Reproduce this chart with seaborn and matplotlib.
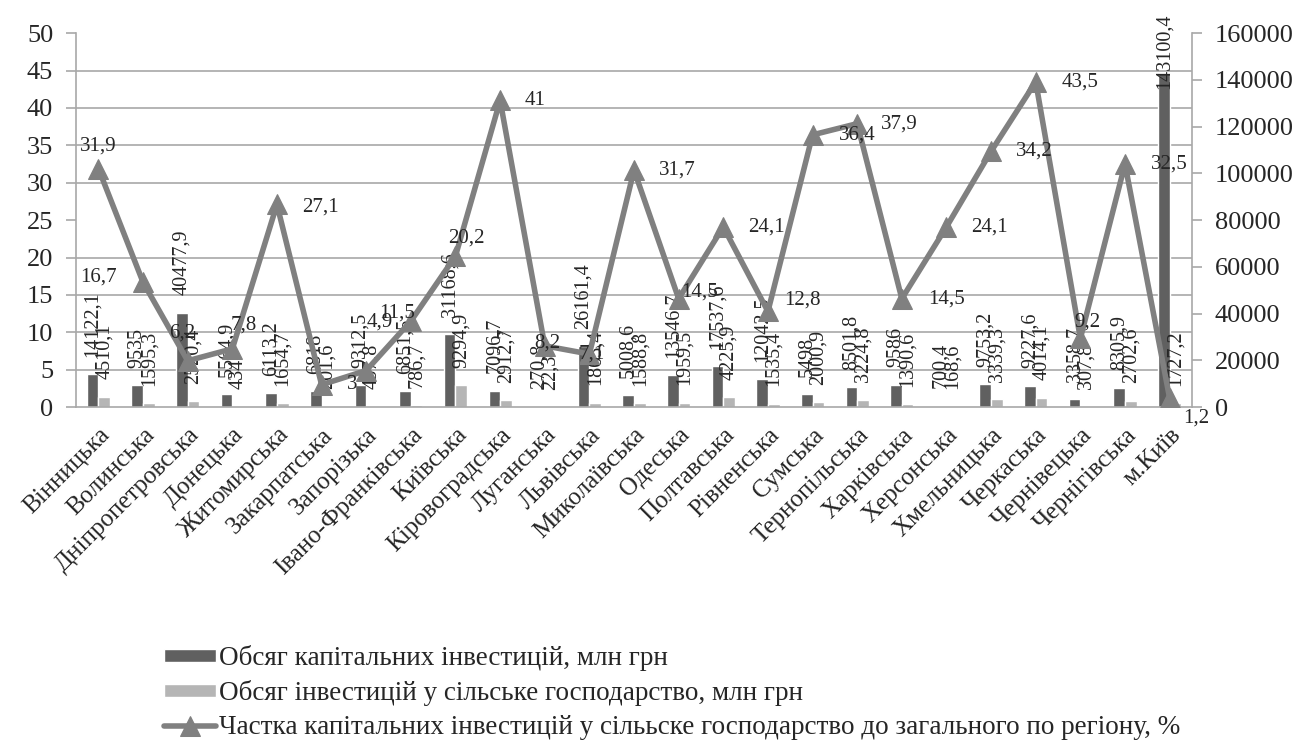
import numpy as np
import pandas as pd
import matplotlib
matplotlib.use("Agg")
import matplotlib.pyplot as plt
import matplotlib.transforms as mtransforms
import seaborn as sns

# Дані
regions = ["Вінницька", "Волинська", "Дніпропетровська", "Донецька", "Житомирська",
           "Закарпатська", "Запорізька", "Івано-Франківська", "Київська", "Кіровоградська",
           "Луганська", "Львівська", "Миколаївська", "Одеська", "Полтавська", "Рівненська",
           "Сумська", "Тернопільська", "Харківська", "Херсонська", "Хмельницька", "Черкаська",
           "Чернівецька", "Чернігівська", "м.Київ"]
total_inv = [14122.1, 9535, 40477.9, 5564.9, 6113.2, 6818, 9312.5, 6851.5, 31168.6, 7096.7,
             270.8, 26161.4, 5008.6, 13546.7, 17537.6, 12042.5, 5498, 8501.8, 9586, 700.4,
             9753.2, 9227.6, 3358.7, 8305.9, 143100.4]
agri_inv = [4510.1, 1595.3, 2520.4, 434, 1654.7, 201.6, 457.8, 786.7, 9294.9, 2912.7,
            22.3, 1865.4, 1588.8, 1959.5, 4225.9, 1535.4, 2000.9, 3224.8, 1390.6, 168.6,
            3339.3, 4014.1, 307.8, 2702.6, 1727.2]
agri_share = [31.9, 16.7, 6.2, 7.8, 27.1, 3, 4.9, 11.5, 20.2, 41, 8.2, 7.1, 31.7, 14.5, 24.1,
              12.8, 36.4, 37.9, 14.5, 24.1, 34.2, 43.5, 9.2, 32.5, 1.2]

name_total = "Обсяг капітальних інвестицій, млн грн"
name_agri = "Обсяг інвестицій у сільське господарство, млн грн"
name_share = "Частка капітальних інвестицій у сілььске господарство до загального по регіону, %"

# зсуви підписів частки (у пунктах)
share_offsets = [(0, 16), (-32, 4), (-4, 20), (8, 17), (31, -2), (22, 0), (10, 35), (-10, 6),
                 (8, 13), (25, 0), (2, 2), (2, 0), (31, 0), (15, 5), (31, 0), (25, 8),
                 (32, 0), (30, 0), (32, 0), (31, 0), (31, 0), (32, 0), (5, 12), (32, 0),
                 (19, -14)]


def fmt(v):
    s = f"{v:.1f}".rstrip("0").rstrip(".")
    return s.replace(".", ",")


sns.set_style("white")
plt.rcParams["font.family"] = ["Liberation Serif", "DejaVu Serif"]

df = pd.DataFrame({
    "region": regions * 2,
    "series": [name_total] * len(regions) + [name_agri] * len(regions),
    "value": total_inv + agri_inv,
})

fig = plt.figure(figsize=(13.12, 7.43), dpi=100)
ax = fig.add_axes([0.058, 0.452, 0.8505, 0.5034])

sns.barplot(data=df, x="region", y="value", hue="series", order=regions,
            hue_order=[name_total, name_agri], palette=["#606060", "#b5b5b5"],
            width=0.52, ax=ax, legend=True, saturation=1)
bar_handles, bar_labels = ax.get_legend_handles_labels()
ax.get_legend().remove()

# лінія частки (на окремій осі, ліворуч)
ax2 = ax.twinx()
sns.lineplot(x=np.arange(len(regions)), y=agri_share, ax=ax2, color="#808080", lw=4,
             marker="^", markersize=15, markeredgecolor="#808080", sort=False,
             label=name_share, legend=False)

ax.set_ylim(0, 160000)
ax.set_xlim(-0.5, len(regions) - 0.5)
ax.yaxis.tick_right()
ax.set_yticks(np.arange(0, 160001, 20000))
ax.set_yticks(np.arange(0, 160001, 16000), minor=True)
ax.grid(True, which="minor", axis="y", color="#a8a8a8", lw=1.2)
ax.set_axisbelow(True)
ax.set_xticks(np.arange(len(regions)))
ax.set_xticks(np.arange(len(regions) + 1) - 0.5, minor=True)
ax.set_xticklabels(regions, rotation=45, ha="right", va="top", rotation_mode="anchor", fontsize=18)
shift = mtransforms.ScaledTranslation(-0.07, -0.08, fig.dpi_scale_trans)
for lab in ax.get_xticklabels():
    lab.set_transform(lab.get_transform() + shift)
ax.tick_params(axis="x", which="major", length=0, pad=12)
ax.tick_params(axis="x", which="minor", length=7, color="#a8a8a8", width=1.2)
ax.tick_params(axis="y", which="major", labelsize=19, length=7, color="#a8a8a8", width=1.2,
               direction="out", pad=9.5, right=True, left=False, labelright=True, labelleft=False)
ax.tick_params(axis="y", which="minor", length=0)
ax.set_xlabel("")
ax.set_ylabel("")
for s in ["top", "left"]:
    ax.spines[s].set_visible(False)
for s in ["right", "bottom"]:
    ax.spines[s].set_color("#a8a8a8")
    ax.spines[s].set_linewidth(1.2)

# підписи стовпців
for cont, vals in zip(ax.containers, [total_inv, agri_inv]):
    anns = ax.bar_label(cont, labels=[fmt(v) for v in vals], rotation=90, padding=12.5,
                        fontsize=14.5)
    for ann, v in zip(anns, vals):
        if v > 120000:
            ann.xyann = (0, -12)

ax2.set_ylim(0, 50)
ax2.set_yticks(np.arange(0, 51, 5))
ax2.tick_params(axis="y", labelsize=19, length=7, color="#a8a8a8", width=1.2, direction="out",
                pad=9.5, left=True, right=False, labelleft=True, labelright=False)
for s in ["top", "right", "bottom"]:
    ax2.spines[s].set_visible(False)
ax2.spines["left"].set_color("#a8a8a8")
ax2.spines["left"].set_linewidth(1.2)

for i, (v, off) in enumerate(zip(agri_share, share_offsets)):
    ax2.annotate(fmt(v), (i, v), xytext=off, textcoords="offset points",
                 ha="center", va="center", fontsize=15)

line_handles, line_labels = ax2.get_legend_handles_labels()
fig.legend(bar_handles + line_handles, bar_labels + line_labels, loc="upper left",
           bbox_to_anchor=(0.115, 0.15), frameon=False, fontsize=19.5, borderpad=0,
           handlelength=1.9, handleheight=0.35, handletextpad=0.1, labelspacing=0.33)

fig.savefig("out.png", dpi=100)
